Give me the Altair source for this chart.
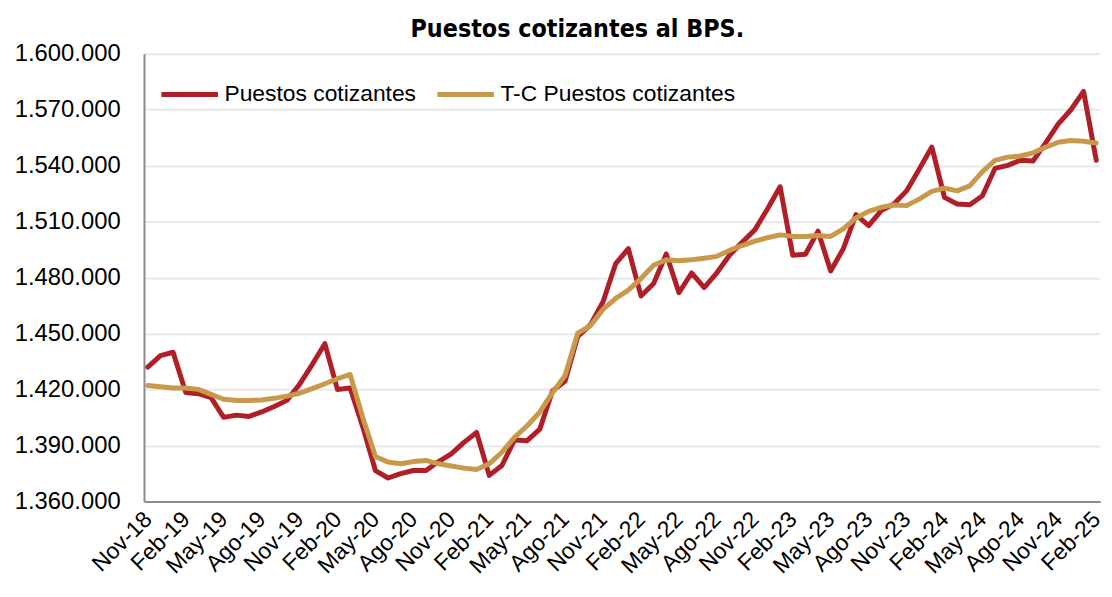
import altair as alt
import pandas as pd

month_abbr = ["Ene", "Feb", "Mar", "Abr", "May", "Jun", "Jul", "Ago", "Set", "Oct", "Nov", "Dic"]

# Nov-18 .. Feb-25 (76 months)
months = []
y, m = 2018, 10
for _ in range(76):
    months.append(f"{month_abbr[m]}-{str(y)[2:]}")
    m += 1
    if m == 12:
        m = 0
        y += 1

puestos = [
    1432000, 1438200, 1440000, 1418400, 1417800, 1415700, 1405100, 1406300, 1405600, 1408000,
    1410900, 1414200, 1422800, 1433400, 1444600, 1420000, 1420800, 1400000, 1376600, 1372600,
    1374900, 1376600, 1376600, 1381400, 1385500, 1391700, 1397000, 1374000, 1379300, 1393000,
    1392600, 1398800, 1419200, 1424500, 1448500, 1454700, 1467100, 1487500, 1495500, 1470200,
    1476900, 1492700, 1471900, 1482500, 1474600, 1482600, 1492000, 1499000, 1505600, 1516800,
    1528700, 1492000, 1492500, 1504900, 1483600, 1495500, 1513800, 1507900, 1515900, 1519500,
    1526500, 1538100, 1550000, 1523000, 1519500, 1519100, 1523900, 1538600, 1540200, 1542900,
    1542500, 1552200, 1562400, 1570000, 1579800, 1542900,
]

tc_puestos = [
    1422200, 1421500, 1420800, 1420800, 1420100, 1417400, 1414800, 1414100, 1414100, 1414400,
    1415300, 1416500, 1418000, 1420500, 1423100, 1425800, 1428100, 1405000, 1384100, 1381100,
    1380200, 1381400, 1382000, 1380200, 1379000, 1377900, 1377200, 1380200, 1386400, 1394400,
    1400600, 1408000, 1418300, 1427500, 1450300, 1454200, 1463000, 1468900, 1473300, 1479500,
    1486600, 1489600, 1489000, 1489600, 1490400, 1491400, 1494600, 1497200, 1499600, 1501400,
    1502900, 1502100, 1502100, 1502600, 1502100, 1506100, 1512000, 1515500, 1517700, 1518900,
    1518600, 1522100, 1526200, 1528000, 1526500, 1529200, 1536800, 1542900, 1544600, 1545200,
    1546900, 1549900, 1552600, 1553500, 1553100, 1552200,
]

series_names = ["Puestos cotizantes", "T-C Puestos cotizantes"]
series_colors = ["#B01E28", "#C8994A"]
y_ticks = [1360000, 1390000, 1420000, 1450000, 1480000, 1510000, 1540000, 1570000, 1600000]
x_label_values = months[::3]

rows = []
for i, mo in enumerate(months):
    rows.append({"mes": mo, "orden": i, "serie": series_names[0], "valor": puestos[i]})
    rows.append({"mes": mo, "orden": i, "serie": series_names[1], "valor": tc_puestos[i]})
df = pd.DataFrame(rows)

FONT = "Liberation Sans"

chart = alt.Chart(df).mark_line(strokeWidth=5, strokeJoin="round", strokeCap="round").encode(
    x=alt.X(
        "mes:N",
        sort=months,
        scale=alt.Scale(type="point", padding=0.3),
        axis=alt.Axis(
            title=None,
            values=x_label_values,
            labelAngle=-45,
            labelAlign="right",
            labelBaseline="middle",
            labelFontSize=23,
            labelFont=FONT,
            labelColor="#000000",
            labelOverlap=False,
            labelPadding=14,
            labelBound=False,
            ticks=False,
            domainColor="#8c8c8c",
            domainWidth=2,
            grid=False,
        ),
    ),
    y=alt.Y(
        "valor:Q",
        scale=alt.Scale(domain=[1360000, 1600000], nice=False, zero=False),
        axis=alt.Axis(
            title=None,
            values=y_ticks,
            labelExpr="replace(replace(format(datum.value, ',d'), ',', '.'), ',', '.')",
            labelFontSize=24,
            labelFont=FONT,
            labelColor="#000000",
            labelPadding=24,
            ticks=False,
            domainColor="#8c8c8c",
            domainWidth=2,
            gridColor="#e8e8e8",
            gridWidth=2,
        ),
    ),
    color=alt.Color(
        "serie:N",
        scale=alt.Scale(domain=series_names, range=series_colors),
        legend=alt.Legend(
            title=None,
            orient="none",
            legendX=15,
            legendY=10,
            direction="horizontal",
            symbolType="stroke",
            symbolSize=3249,
            symbolStrokeWidth=5,
            labelFontSize=23,
            labelFont=FONT,
            labelColor="#000000",
            labelOffset=4,
            labelLimit=400,
            columnPadding=10,
            padding=0,
        ),
    ),
    detail="serie:N",
    order="orden:Q",
).properties(
    width=963,
    height=451,
    title=alt.TitleParams(
        "Puestos cotizantes al BPS.",
        font="Liberation Sans Narrow, DejaVu Sans Condensed, sans-serif",
        fontSize=25,
        fontWeight="bold",
        color="#000000",
        anchor="middle",
        dx=-45,
        offset=0,
    ),
    autosize=alt.AutoSizeParams(type="none"),
    padding={"left": 137, "top": 44, "right": 4, "bottom": 80},
).configure_view(stroke=None)

chart.save("out.html", embed_options={"renderer": "svg", "actions": False})
